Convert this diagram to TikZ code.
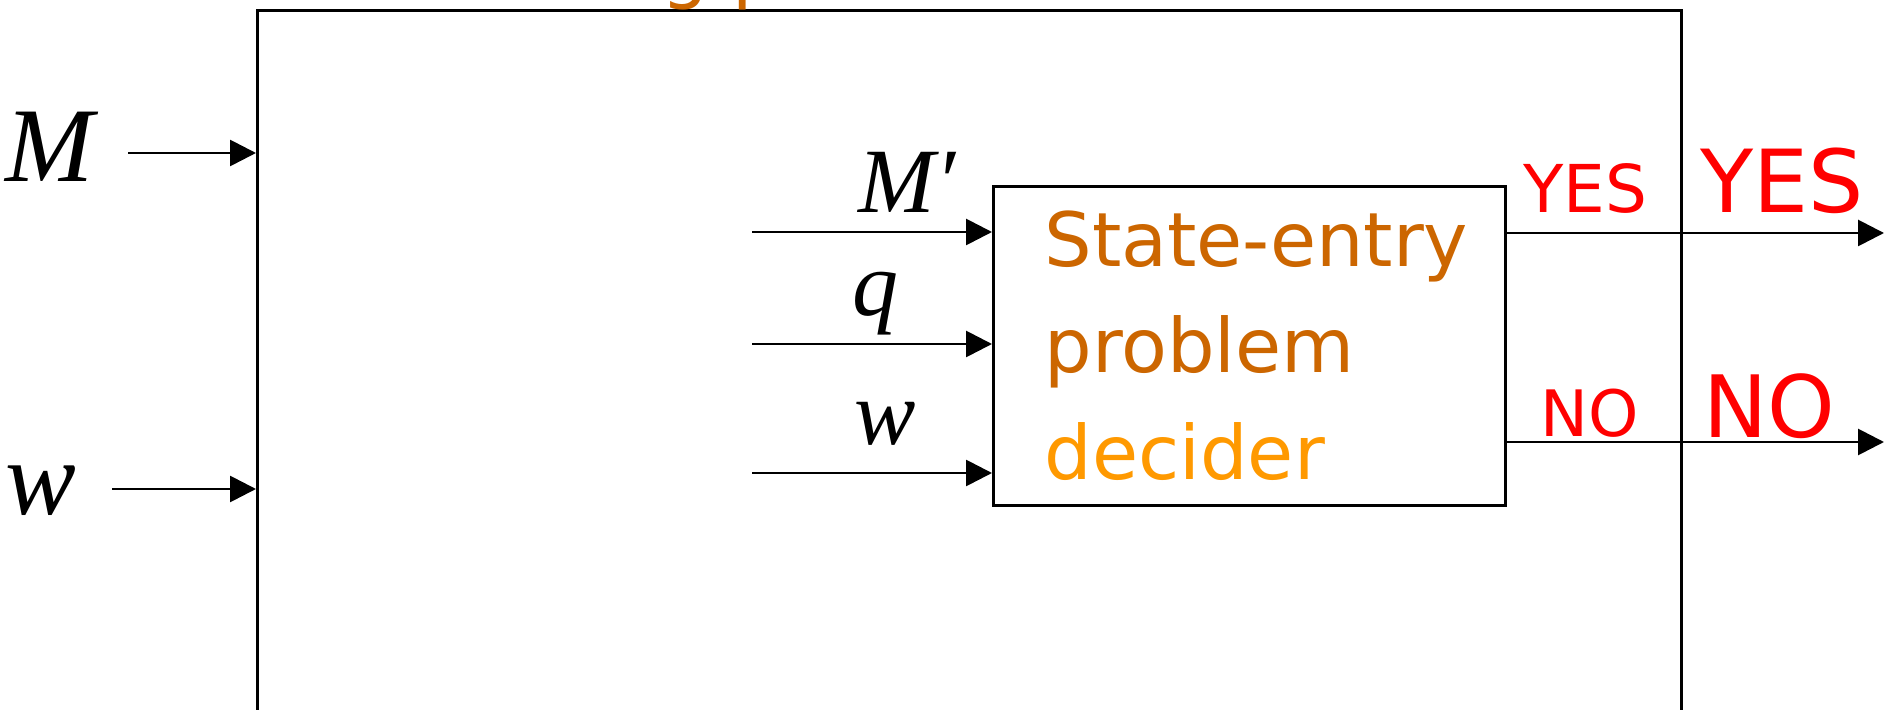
\documentclass[tikz,border=0pt]{standalone}
\usepackage{fontspec}
\setmainfont{DejaVu Sans}
\newfontfamily\tms{Liberation Serif}
\usetikzlibrary{arrows.meta}
\definecolor{darkorange}{HTML}{CC6600}
\definecolor{lightorange}{HTML}{FF9900}

\begin{document}
\begin{tikzpicture}[x=0.5pt, y=-0.5pt,
    frame/.style={draw, line width=1.4pt, inner sep=0pt},
    flow/.style={-{Triangle[length=13pt,width=13pt]}, line width=1.4pt},
    var/.style={inner sep=0pt, anchor=base, font=\fontsize{53}{60}\tms\itshape},
    ivar/.style={var, font=\fontsize{46}{52}\tms\itshape},
    decline/.style={inner sep=0pt, anchor=base west, font=\fontsize{37.5}{45}\selectfont},
    ans/.style={inner sep=0pt, anchor=base, text=red}]
    \useasboundingbox (0,0) rectangle (1884,710);

    % outer machine (runs off the bottom)
    \node[frame, minimum width=712pt, minimum height=450pt, anchor=north west] (halt) at (256,9) {};
    \node[decline, text=darkorange] (title) at (440,-5) {Halting problem decider};

    % inner decider box
    \node[frame, minimum width=256pt, minimum height=159.5pt, anchor=north west] (sedec) at (992,185) {};
    \foreach \txt/\yy/\col [count=\i] in {State-entry/267/darkorange, problem/373/darkorange, decider/480/lightorange}
        \node[decline, text=\col] (line\i) at (1044,\yy) {\txt};

    % inputs of the outer machine
    \node[var] (M) at (50,182) {M};
    \node[var] (w) at (41,515) {w};
    \coordinate (mtail) at (128,153);
    \coordinate (wtail) at (112,489);
    \draw[flow] (mtail) -- (mtail -| halt.west);
    \draw[flow] (wtail) -- (wtail -| halt.west);

    % inputs of the decider
    \node[ivar] (Mp) at (907,213) {M′};
    \node[ivar] (q) at (875,316) {q};
    \node[ivar] (wi) at (885,445) {w};
    \foreach \yy/\nm in {232/a, 344/b, 473/c} {
        \coordinate (in\nm) at (752,\yy);
        \draw[flow] (in\nm) -- (in\nm -| sedec.west);
    }

    % outputs
    \coordinate (yesend) at (1884,233);
    \coordinate (noend) at (1884,442);
    \draw[flow] (sedec.east |- yesend) -- (yesend);
    \draw[flow] (sedec.east |- noend) -- (noend);
    \node[ans, font=\fontsize{33}{36}\selectfont] (yes1) at (1585,213) {YES};
    \node[ans, font=\fontsize{43.5}{48}\selectfont] (yes2) at (1782,213) {YES};
    \node[ans, font=\fontsize{32}{36}\selectfont] (no1) at (1590,437) {NO};
    \node[ans, font=\fontsize{43}{48}\selectfont] (no2) at (1769,438) {NO};
\end{tikzpicture}
\end{document}
